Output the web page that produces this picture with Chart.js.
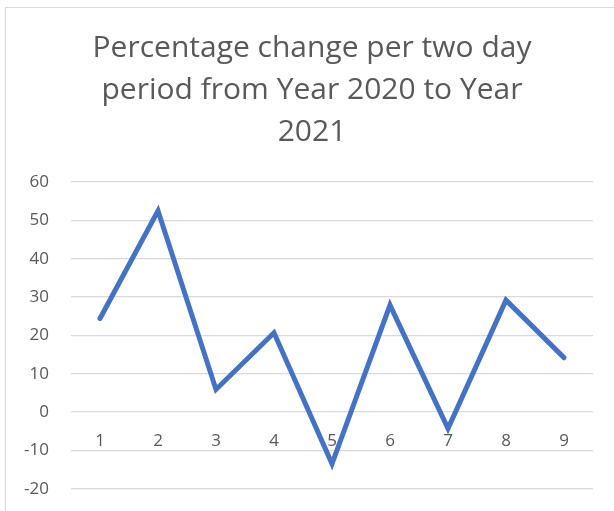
<!DOCTYPE html>
<html>
<head>
<meta charset="utf-8">
<script src="https://cdn.jsdelivr.net/npm/chart.js@4"></script>
<style>
  html, body { margin: 0; padding: 0; background: #fff; }
  #wrap { position: relative; width: 614px; height: 511px; overflow: hidden; }
  #frame { position: absolute; left: 5px; top: 7px; width: 640px; height: 540px;
           border-top: 1px solid #d9d9d9; border-left: 1px solid #d9d9d9; box-sizing: border-box; }
  canvas { position: absolute; left: 0; top: 0; }
</style>
</head>
<body>
<div id="wrap">
  <div id="frame"></div>
  <canvas id="c" width="614" height="521"></canvas>
</div>
<script>
const titleLines = ["Percentage change per two day", "period from Year 2020 to Year", "2021"];
const categories = ["1", "2", "3", "4", "5", "6", "7", "8", "9"];
const values = [24.4, 52.5, 5.9, 20.7, -13.5, 27.9, -4.3, 29.2, 14.2];
const yMin = -20, yMax = 60, yStep = 10;

const grey = "#595959";
new Chart(document.getElementById("c"), {
  type: "line",
  data: {
    labels: categories,
    datasets: [{
      data: values,
      borderColor: "#4472C4",
      borderWidth: 5,
      pointRadius: 0,
      tension: 0,
      borderCapStyle: "round",
      borderJoinStyle: "miter",
      fill: false
    }]
  },
  options: {
    responsive: false,
    animation: false,
    layout: { padding: { left: 10, right: 0, top: 0, bottom: 13 } },
    plugins: {
      legend: { display: false },
      tooltip: { enabled: false },
      title: {
        display: true,
        text: titleLines,
        color: grey,
        font: { family: "'Open Sans'", size: 30, weight: "normal", lineHeight: 1.4 },
        padding: { top: 27, bottom: 29 }
      }
    },
    scales: {
      x: {
        position: { y: 0 },
        offset: true,
        afterFit: (s) => { s.height = 0; },
        grid: { display: false },
        border: { display: false },
        ticks: { color: grey, font: { family: "'Open Sans'", size: 17 }, padding: 11, maxRotation: 0 }
      },
      y: {
        min: yMin, max: yMax,
        afterFit: (s) => { s.width = 61; },
        grid: { color: "#d9d9d9", lineWidth: 1.3, drawTicks: false },
        border: { display: false },
        ticks: { stepSize: yStep, color: grey, font: { family: "'Open Sans'", size: 17 }, padding: 22 }
      },
      yPad: {
        position: "right",
        display: true,
        afterFit: (s) => { s.width = 21; },
        grid: { display: false },
        border: { display: false },
        ticks: { display: false }
      }
    }
  }
});
</script>
</body>
</html>
